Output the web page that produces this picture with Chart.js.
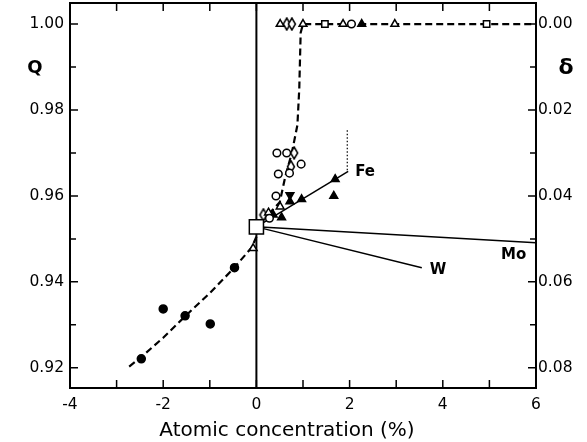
<!DOCTYPE html>
<html>
<head>
<meta charset="utf-8">
<script src="https://cdn.jsdelivr.net/npm/chart.js@4.4.1/dist/chart.umd.min.js"></script>
<style>
html, body { margin: 0; padding: 0; background: #fff; }
canvas { display: block; }
</style>
</head>
<body>
<canvas id="chart" width="587" height="442"></canvas>
<script>
// axis ranges and tick labels
let xMin = -4, xMax = 6;
let qMin = 0.9153, qMax = 1.0049;
let xTickLabels = [-4, -2, 0, 2, 4, 6];
let xMinorTicks = [-4, -3, -2, -1, 0, 1, 2, 3, 4, 5, 6];
let qTickLabels = [0.92, 0.94, 0.96, 0.98, 1.00];
let qMinorTicks = [0.92, 0.93, 0.94, 0.95, 0.96, 0.97, 0.98, 0.99, 1.00];
let deltaTickLabels = [0.00, 0.02, 0.04, 0.06, 0.08];

// measured points, [atomic concentration %, Q]
let filledCircles = [[-2.47, 0.9221], [-2.0, 0.9337], [-1.53, 0.9321], [-0.99, 0.9302], [-0.47, 0.9433]];
let openCircles = [[0.44, 0.970], [0.65, 0.970], [0.96, 0.9674], [0.47, 0.9651], [0.71, 0.9653], [0.42, 0.960], [0.28, 0.9548], [2.04, 1.0]];
let openTriangles = [[-0.07, 0.9478], [0.51, 0.9575], [0.26, 0.9561], [0.51, 1.0], [1.0, 1.0], [1.86, 1.0], [2.97, 1.0]];
let filledTriangles = [[0.36, 0.9556], [0.54, 0.955], [0.97, 0.9592], [1.66, 0.960], [1.69, 0.9639], [0.72, 0.9587], [2.26, 1.0]];
let filledTrianglesDown = [[0.72, 0.9602]];
let openDiamonds = [[0.81, 0.970], [0.74, 0.9668], [0.15, 0.9556], [0.65, 1.0], [0.76, 1.0]];
let openSquares = [[1.47, 1.0], [4.94, 1.0]];
let pureHost = [[0, 0.9528]];

// dashed guide curve
let curve = [[-2.73, 0.9203], [-2.47, 0.9225], [-2.0, 0.927], [-1.5, 0.9323], [-1.0, 0.9374], [-0.5, 0.943],
  [-0.1, 0.948], [0.0, 0.9505], [0.15, 0.9545], [0.5, 0.9585], [0.62, 0.9645], [0.76, 0.970],
  [0.88, 0.9765], [0.92, 0.985], [0.95, 0.998], [1.0, 1.0], [6.0, 1.0]];

// solid lines from the pure host
let feLine = [[0, 0.9528], [1.97, 0.9657]];
let wLine = [[0, 0.9528], [3.55, 0.9433]];
let moLine = [[0, 0.9528], [6.0, 0.9491]];
let feDotted = [[1.95, 0.966], [1.95, 0.9753]];
let zeroLine = [[0, qMin], [0, qMax]];

let lineLabels = [["Fe", 2.12, 0.9656], ["W", 3.72, 0.9428], ["Mo", 5.25, 0.9463]];

function pts(arr){
	return arr.map(p => ({x: p[0], y: p[1]}));
}

//narrow open diamond, like the one in the figure
function diamondImage(){
	let c = document.createElement("canvas");
	c.width = 10; c.height = 14;
	let g = c.getContext("2d");
	g.fillStyle = "#fff";
	g.strokeStyle = "#000";
	g.lineWidth = 1.5;
	g.beginPath();
	g.moveTo(5, 1); g.lineTo(8.5, 7); g.lineTo(5, 13); g.lineTo(1.5, 7);
	g.closePath();
	g.fill(); g.stroke();
	return c;
}

function markers(data, style, fill, radius, rotation){
	return {
		data: pts(data), showLine: false, order: 0,
		pointStyle: style, pointRadius: radius, pointRotation: rotation || 0,
		pointBackgroundColor: fill, pointBorderColor: "#000", pointBorderWidth: 1.5
	};
}

function line(data, width, dash){
	return {
		data: pts(data), showLine: true, order: 1, pointRadius: 0,
		borderColor: "#000", borderWidth: width, borderDash: dash || [], tension: 0
	};
}

const fontFamily = "'DejaVu Sans', sans-serif";

const frame = {
	id: "frame",
	afterDraw(chart){
		const ctx = chart.ctx;
		const a = chart.chartArea;
		const sx = chart.scales.x, sy = chart.scales.y;
		ctx.save();
		ctx.strokeStyle = "#000";
		ctx.lineWidth = 2;
		ctx.strokeRect(a.left, a.top, a.right - a.left, a.bottom - a.top);
		ctx.lineWidth = 1.5;
		ctx.beginPath();
		for(let v of xMinorTicks){
			let px = sx.getPixelForValue(v);
			ctx.moveTo(px, a.bottom); ctx.lineTo(px, a.bottom - 8);
			ctx.moveTo(px, a.top); ctx.lineTo(px, a.top + 8);
		}
		for(let i = 0; i < qMinorTicks.length; i++){
			let py = sy.getPixelForValue(qMinorTicks[i]);
			let len = i % 2 == 0 ? 8 : 6;
			ctx.moveTo(a.left, py); ctx.lineTo(a.left + len, py);
			ctx.moveTo(a.right, py); ctx.lineTo(a.right - len, py);
		}
		ctx.stroke();
		ctx.fillStyle = "#000";
		ctx.font = "bold 15px " + fontFamily;
		ctx.textBaseline = "middle";
		ctx.textAlign = "left";
		for(let l of lineLabels){
			ctx.fillText(l[0], sx.getPixelForValue(l[1]), sy.getPixelForValue(l[2]));
		}
		ctx.font = "bold 18px " + fontFamily;
		ctx.textAlign = "center";
		ctx.fillText("Q", 35, 68);
		ctx.font = "bold 22px " + fontFamily;
		ctx.fillText("δ", 566, 68);
		ctx.font = "20px " + fontFamily;
		ctx.fillText("Atomic concentration (%)", 287, 431);
		ctx.restore();
	}
};

let tickFont = {family: fontFamily, size: 15.5};

new Chart(document.getElementById("chart"), {
	type: "scatter",
	data: {
		datasets: [
			markers(pureHost, "rect", "#fff", 10),
			markers(filledCircles, "circle", "#000", 4),
			markers(openCircles, "circle", "#fff", 3.8),
			markers(openTriangles, "triangle", "#fff", 4.5),
			markers(filledTriangles, "triangle", "#000", 4.5),
			markers(filledTrianglesDown, "triangle", "#000", 4.5, 180),
			markers(openDiamonds, diamondImage(), "#fff", 5),
			markers(openSquares, "rect", "#fff", 4.5),
			line(curve, 2.2, [7, 4]),
			line(feLine, 1.5),
			line(wLine, 1.5),
			line(moLine, 1.5),
			line(feDotted, 1.2, [1.5, 2]),
			line(zeroLine, 2)
		]
	},
	options: {
		responsive: false,
		animation: false,
		devicePixelRatio: 1,
		layout: {autoPadding: false, padding: {top: 3, left: 0, right: 0, bottom: 0}},
		plugins: {legend: {display: false}, tooltip: {enabled: false}},
		scales: {
			x: {
				type: "linear", min: xMin, max: xMax,
				grid: {display: false, drawTicks: false}, border: {display: false},
				ticks: {font: tickFont, color: "#000", padding: 8, callback: v => String(v)},
				afterBuildTicks: s => { s.ticks = xTickLabels.map(v => ({value: v})); },
				afterFit: s => { s.height = 54; s.paddingLeft = 0; s.paddingRight = 0; }
			},
			y: {
				type: "linear", position: "left", min: qMin, max: qMax,
				grid: {display: false, drawTicks: false}, border: {display: false},
				ticks: {font: tickFont, color: "#000", padding: 6, callback: v => v.toFixed(2)},
				afterBuildTicks: s => { s.ticks = qTickLabels.map(v => ({value: v})); },
				afterFit: s => { s.width = 70; s.paddingTop = 0; s.paddingBottom = 0; }
			},
			y2: {
				type: "linear", position: "right", reverse: true, min: 1 - qMax, max: 1 - qMin,
				grid: {display: false, drawTicks: false}, border: {display: false},
				ticks: {font: tickFont, color: "#000", padding: 2, callback: v => v.toFixed(2)},
				afterBuildTicks: s => { s.ticks = deltaTickLabels.map(v => ({value: v})); },
				afterFit: s => { s.width = 51; s.paddingTop = 0; s.paddingBottom = 0; }
			}
		}
	},
	plugins: [frame]
});
</script>
</body>
</html>
